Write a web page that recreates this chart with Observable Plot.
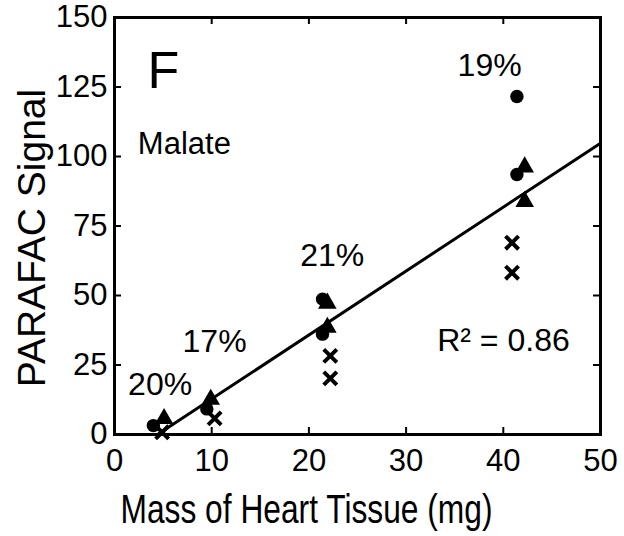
<!DOCTYPE html>
<html><head><meta charset="utf-8">
<script src="https://cdn.jsdelivr.net/npm/d3@7"></script>
<script src="https://cdn.jsdelivr.net/npm/@observablehq/plot@0.6"></script>
<style>html,body{margin:0;padding:0;background:#fff} svg{display:block}</style>
</head><body><div id="chart"></div>
<script>
// Data
const circleX = [4.0, 9.5, 21.4, 21.4, 41.4, 41.4];
const circleY = [3.2, 9.2, 48.7, 36.1, 121.6, 93.5];
const triangleX = [5.1, 9.9, 21.9, 21.9, 42.2, 42.2];
const triangleY = [5.7, 12.6, 47.2, 38.5, 96.2, 83.8];
const crossX = [4.9, 10.3, 22.2, 22.2, 40.9, 40.9];
const crossY = [0.8, 5.8, 28.3, 20.2, 69.0, 58.2];
const fitSlope = 2.30;
const fitIntercept = -10.2;
const fitRange = [4.5, 50];
const xTicks = [0, 10, 20, 30, 40, 50];
const yTicks = [0, 25, 50, 75, 100, 125, 150];
const groupLabels = ["20%", "17%", "21%", "19%"];
const groupLabelX = [1.4, 7.0, 19.1, 35.3];
const groupLabelY = [14.2, 29.8, 60.6, 128.8];
const panelLetter = "F";
const analyte = "Malate";
const r2Text = "R² = 0.86";
const xTitle = "Mass of Heart Tissue (mg)";
const yTitle = "PARAFAC Signal";

const W = 624, H = 536;
const mL = 114, mR = 24, mT = 17, mB = 102;
const frameW = W - mL - mR, frameH = H - mT - mB;

const zip = (xs, ys) => xs.map((x, i) => ({x, y: ys[i]}));
const circles = zip(circleX, circleY);
const triangles = zip(triangleX, triangleY);
const crosses = zip(crossX, crossY);
const fit = fitRange.map(x => ({x, y: fitSlope * x + fitIntercept}));
const labels = groupLabels.map((t, i) => ({t, x: groupLabelX[i], y: groupLabelY[i]}));
const innerX = xTicks.slice(1, -1);
const innerY = yTicks.slice(1, -1);

const chart = Plot.plot({
  width: W, height: H,
  marginLeft: mL, marginRight: mR, marginTop: mT, marginBottom: mB,
  style: {fontFamily: "'Liberation Sans', Arial, sans-serif", background: "white", color: "black"},
  x: {domain: [0, 50], ticks: xTicks},
  y: {domain: [0, 150], ticks: yTicks},
  marks: [
    Plot.axisX({ticks: xTicks, tickSize: 0, tickPadding: 14, fontSize: 31, label: null}),
    Plot.axisY({ticks: yTicks, tickSize: 0, tickPadding: 7, fontSize: 31, label: null}),
    Plot.tickX(innerX, {x: d => d, insetTop: frameH - 7, strokeWidth: 2}),
    Plot.tickX(innerX, {x: d => d, insetBottom: frameH - 7, strokeWidth: 2}),
    Plot.tickY(innerY, {y: d => d, insetRight: frameW - 7, strokeWidth: 2}),
    Plot.tickY(innerY, {y: d => d, insetLeft: frameW - 7, strokeWidth: 2}),
    Plot.frame({strokeWidth: 3}),
    Plot.line(fit, {x: "x", y: "y", strokeWidth: 3}),
    Plot.dot(circles, {x: "x", y: "y", symbol: "circle", r: 6.7, fill: "black"}),
    Plot.dot(triangles, {x: "x", y: "y", symbol: "triangle", r: 6.9, fill: "black"}),
    Plot.dot(crosses, {x: "x", y: "y", symbol: "times", r: 6, stroke: "black", strokeWidth: 4}),
    Plot.text(labels, {x: "x", y: "y", text: "t", textAnchor: "start", lineAnchor: "bottom", fontSize: 32}),
    Plot.text([panelLetter], {x: () => 3.4, y: () => 124.5, text: d => d, textAnchor: "start", lineAnchor: "bottom", fontSize: 52}),
    Plot.text([analyte], {x: () => 2.4, y: () => 100.8, text: d => d, textAnchor: "start", lineAnchor: "bottom", fontSize: 31}),
    Plot.text([r2Text], {x: () => 33.2, y: () => 30.1, text: d => d, textAnchor: "start", lineAnchor: "bottom", fontSize: 32}),
    Plot.text([xTitle], {frameAnchor: "bottom-left", text: d => d, dx: 6, dy: 88, textAnchor: "start", lineAnchor: "bottom", fontSize: 40}),
    Plot.text([yTitle], {frameAnchor: "left", text: d => d, rotate: -90, dx: -70, dy: 12, textAnchor: "middle", lineAnchor: "bottom", fontSize: 39})
  ]
});
document.getElementById("chart").appendChild(chart);
d3.select(chart).selectAll("text").filter(function() { return this.textContent === xTitle; })
  .attr("textLength", 372).attr("lengthAdjust", "spacingAndGlyphs");
</script>
</body></html>
